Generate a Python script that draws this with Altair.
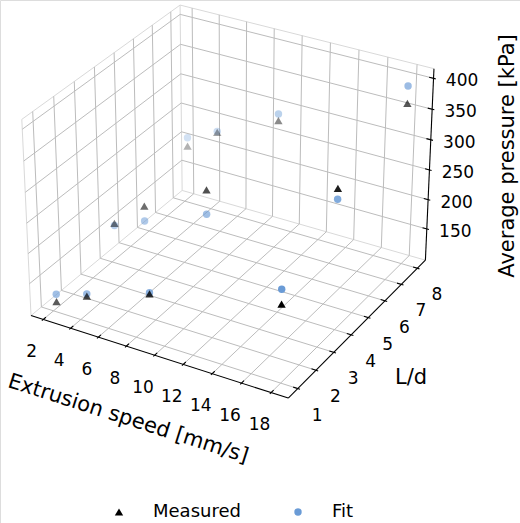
import math
import altair as alt
import pandas as pd

# ---------------- data ----------------
SPEED = [2.25, 4.5, 9.0, 18.0]            # extrusion speed [mm/s]
LD = [1, 4, 8]                             # L/d
MEASURED = [113.5, 139.5, 175.9, 224.9,    # L/d = 1
            164.4, 208.9, 265.5, 327.7,    # L/d = 4
            195.0, 232.6, 280.7, 364.8]    # L/d = 8
FIT = [126.0, 142.9, 177.7, 248.3,
       160.6, 183.6, 225.4, 310.3,
       209.4, 234.3, 292.0, 392.7]
SERIES = ["Measured", "Fit"]
X_TICKS = [2, 4, 6, 8, 10, 12, 14, 16, 18]
Y_TICKS = [1, 2, 3, 4, 5, 6, 7, 8]
Z_TICKS = [150, 200, 250, 300, 350, 400]
X_TITLE = "Extrusion speed [mm/s]"
Y_TITLE = "L/d"
Z_TITLE = "Average pressure [kPa]"

# axis limits (scale domains of the 3-D box)
XLIM = (1.102, 19.148)
YLIM = (0.4896, 8.5104)
ZLIM = (96.1, 415.4)

# ---------------- view (matplotlib-like perspective) ----------------
ELEV, AZIM, DIST = 30.0, -60.0, 10.0
BOX = (1.1429, 1.1429, 0.88)
W, H = 520, 523
PIX_OX, PIX_SX = 231.7, 2581.0
PIX_OY, PIX_SY = 192.6, 2542.0

e = math.radians(ELEV)
a = math.radians(AZIM)
wv = (math.cos(e) * math.cos(a), math.cos(e) * math.sin(a), math.sin(e))
un = math.hypot(-wv[1], wv[0])
uv = (-wv[1] / un, wv[0] / un, 0.0)
vv = (wv[1] * uv[2] - wv[2] * uv[1],
      wv[2] * uv[0] - wv[0] * uv[2],
      wv[0] * uv[1] - wv[1] * uv[0])


def q_expr(field, lim, b):
    return f"({b}*((datum['{field}']-({lim[0]}))/({lim[1] - lim[0]})-0.5))"


def dot(vec, qs):
    return "(" + "+".join(f"({c:.6f})*{q}" for c, q in zip(vec, qs)) + ")"


def project(fx, fy, fz):
    qs = (q_expr(fx, XLIM, BOX[0]), q_expr(fy, YLIM, BOX[1]), q_expr(fz, ZLIM, BOX[2]))
    depth = dot(wv, qs)
    den = f"({DIST}-{depth})"
    return f"{dot(uv, qs)}/{den}", f"{dot(vv, qs)}/{den}", depth


PX, PY, DEPTH = project("x", "y", "z")
PX2, PY2, _ = project("x2", "y2", "z2")

XS = alt.Scale(domain=[-PIX_OX / PIX_SX, (W - PIX_OX) / PIX_SX], nice=False, zero=False)
YS = alt.Scale(domain=[(PIX_OY - H) / PIX_SY, PIX_OY / PIX_SY], nice=False, zero=False)

X0, X1 = XLIM
Y0, Y1 = YLIM
Z0, Z1 = ZLIM

# ---------------- tables ----------------
pts = []
for i, l in enumerate(LD):
    for j, s in enumerate(SPEED):
        k = i * len(SPEED) + j
        pts.append(dict(x=s, y=l, z=MEASURED[k], series="Measured"))
        pts.append(dict(x=s, y=l, z=FIT[k], series="Fit"))
pts = pd.DataFrame(pts)

segs = []


def seg(p, q, kind):
    segs.append(dict(x=p[0], y=p[1], z=p[2], x2=q[0], y2=q[1], z2=q[2], kind=kind))


for xt in X_TICKS:
    seg((xt, Y0, Z0), (xt, Y1, Z0), "grid")
    seg((xt, Y1, Z0), (xt, Y1, Z1), "grid")
for yt in Y_TICKS:
    seg((X0, yt, Z0), (X1, yt, Z0), "grid")
    seg((X0, yt, Z0), (X0, yt, Z1), "grid")
for zt in Z_TICKS:
    seg((X0, Y0, zt), (X0, Y1, zt), "grid")
    seg((X0, Y1, zt), (X1, Y1, zt), "grid")

A, B, C, D = (X0, Y0, Z0), (X1, Y0, Z0), (X1, Y1, Z0), (X0, Y1, Z0)
At, Ct, Dt = (X0, Y0, Z1), (X1, Y1, Z1), (X0, Y1, Z1)
for p, q in [(A, At), (At, Dt), (Dt, Ct), (D, Dt), (D, A), (D, C)]:
    seg(p, q, "pane")
for p, q in [(A, B), (B, C), (C, Ct)]:
    seg(p, q, "axis")

dxr, dyr = (X1 - X0) / 12.0, (Y1 - Y0) / 12.0
for xt in X_TICKS:
    seg((xt, Y0 - 0.1 * dyr, Z0), (xt, Y0 + 0.2 * dyr, Z0), "axis")
for yt in Y_TICKS:
    seg((X1 + 0.1 * dxr, yt, Z0), (X1 - 0.2 * dxr, yt, Z0), "axis")
for zt in Z_TICKS:
    seg((X1 + 0.1 * dxr, Y1, zt), (X1 - 0.2 * dxr, Y1, zt), "axis")
segs = pd.DataFrame(segs)

xlab = pd.DataFrame(dict(x=X_TICKS, y=[Y0] * len(X_TICKS), z=[Z0] * len(X_TICKS),
                         label=[str(t) for t in X_TICKS]))
ylab = pd.DataFrame(dict(x=[X1] * len(Y_TICKS), y=Y_TICKS, z=[Z0] * len(Y_TICKS),
                         label=[str(t) for t in Y_TICKS]))
zlab = pd.DataFrame(dict(x=[X1] * len(Z_TICKS), y=[Y1] * len(Z_TICKS), z=Z_TICKS,
                         label=[str(t) for t in Z_TICKS]))
titles = pd.DataFrame([
    dict(x=(X0 + X1) / 2, y=Y0, z=Z0, label=X_TITLE, which="x"),
    dict(x=X1, y=(Y0 + Y1) / 2, z=Z0, label=Y_TITLE, which="y"),
    dict(x=X1, y=Y1, z=(Z0 + Z1) / 2, label=Z_TITLE, which="z"),
])


def enc_pt():
    return dict(x=alt.X("PX:Q", scale=XS, axis=None), y=alt.Y("PY:Q", scale=YS, axis=None))


seg_base = alt.Chart(segs).transform_calculate(PX=PX, PY=PY, PX2=PX2, PY2=PY2)


def seg_layer(kind, color, width):
    return seg_base.transform_filter(f"datum.kind=='{kind}'").mark_rule(
        color=color, strokeWidth=width
    ).encode(x2="PX2:Q", y2="PY2:Q", **enc_pt())


panes = seg_layer("pane", "#d9d9d9", 1.0)
grid = seg_layer("grid", "#bcbcbc", 1.0)
axes = seg_layer("axis", "black", 1.1)

legend = alt.Legend(title=None, orient="none", legendX=110, legendY=503,
                    direction="horizontal", columns=2, labelFontSize=18,
                    labelOffset=25, columnPadding=48, symbolSize=60,
                    symbolStrokeWidth=0, symbolOpacity=1, labelColor="black")

points = alt.Chart(pts).transform_calculate(
    PX=PX, PY=PY, ZP=f"-1/({DIST}-{DEPTH})"
).transform_joinaggregate(
    zmin="min(ZP)", zmax="max(ZP)", groupby=["series"]
).transform_calculate(
    op="1-0.7*(datum.ZP-datum.zmin)/(datum.zmax-datum.zmin)",
    order="datum.series=='Measured' ? 1 : 0",
).mark_point(filled=True, strokeWidth=0).encode(
    color=alt.Color("series:N", scale=alt.Scale(domain=SERIES, range=["black", "#6a9bd6"]), legend=legend),
    shape=alt.Shape("series:N", scale=alt.Scale(domain=SERIES, range=["triangle-up", "circle"]), legend=legend),
    size=alt.Size("series:N", scale=alt.Scale(domain=SERIES, range=[70, 55]), legend=None),
    opacity=alt.Opacity("op:Q", scale=None),
    order=alt.Order("order:Q"),
    **enc_pt(),
)


def label_layer(df, dx, dy):
    return alt.Chart(df).transform_calculate(PX=PX, PY=PY).mark_text(
        fontSize=17, dx=dx, dy=dy, align="center", baseline="middle", color="black"
    ).encode(text="label:N", **enc_pt())


xl = label_layer(xlab, -11.5, 32.5)
yl = label_layer(ylab, 19.5, 27)
zl = label_layer(zlab, 28.5, 3)

# text offsets (dx, dy) are applied in the rotated frame of each title
TH = math.radians(17.7)
sdx, sdy = -28.4, 63.3
tdx = math.cos(TH) * sdx + math.sin(TH) * sdy
tdy = -math.sin(TH) * sdx + math.cos(TH) * sdy

tbase = alt.Chart(titles).transform_calculate(PX=PX, PY=PY)
tx = tbase.transform_filter("datum.which=='x'").mark_text(
    fontSize=21, dx=tdx, dy=tdy, angle=17.7, align="center", baseline="middle", color="black"
).encode(text="label:N", **enc_pt())
ty = tbase.transform_filter("datum.which=='y'").mark_text(
    fontSize=21, dx=51.2, dy=51.9, align="center", baseline="middle", color="black"
).encode(text="label:N", **enc_pt())
tz = tbase.transform_filter("datum.which=='z'").mark_text(
    fontSize=21, dx=10.5, dy=78.2, angle=270, align="center", baseline="middle", color="black"
).encode(text="label:N", **enc_pt())

chart = alt.layer(panes, grid, axes, points, xl, yl, zl, tx, ty, tz).properties(
    width=W, height=H, padding=0, autosize=alt.AutoSizeParams(type="none")
).configure_view(stroke=None).configure(font="DejaVu Sans")

chart.save("out.html", embed_options={"renderer": "svg", "actions": False})
